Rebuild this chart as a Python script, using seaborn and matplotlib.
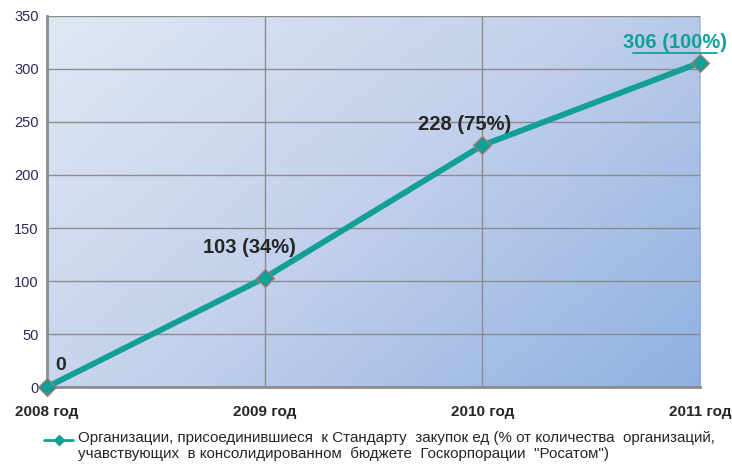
import numpy as np
import pandas as pd
import matplotlib.pyplot as plt
import seaborn as sns
from matplotlib.colors import LinearSegmentedColormap

sns.set_style("white")
plt.rcParams['font.family'] = ['Liberation Sans', 'DejaVu Sans']

# Data
years = ["2008 год", "2009 год", "2010 год", "2011 год"]
orgs = [0, 103, 228, 306]
point_labels = ["0", "103 (34%)", "228 (75%)", "306 (100%)"]
y_ticks = [0, 50, 100, 150, 200, 250, 300, 350]
legend_text = ("Организации, присоединившиеся  к Стандарту  закупок ед (% от количества  организаций,\n"
               "учавствующих  в консолидированном  бюджете  Госкорпорации  \"Росатом\")")

df = pd.DataFrame({"x": np.arange(len(years)), "y": orgs})

fig = plt.figure(figsize=(7.32, 4.66), dpi=100)
ax = fig.add_axes([0.0642, 0.1695, 0.8921, 0.7962])

# gradient background: light top-left -> darker blue bottom-right
cmap = LinearSegmentedColormap.from_list("bg", ["#e0e7f4", "#c2d0ec", "#8eb0e0"])
xx, yy = np.meshgrid(np.linspace(0, 1, 200), np.linspace(0, 1, 200))
grad = (xx * 0.6 + yy * 0.4)
ax.imshow(grad, extent=[0, 1, 0, 1], transform=ax.transAxes, cmap=cmap,
          aspect="auto", zorder=0, origin="upper")

sns.lineplot(data=df, x="x", y="y", ax=ax, color="#12a096", linewidth=4.2,
             marker="D", markersize=9, markerfacecolor="#12a096",
             markeredgecolor="#c0706a", markeredgewidth=0.8, zorder=5, clip_on=False)

ax.set_xlim(0, 3)
ax.set_ylim(0, 350)
ax.set_yticks(y_ticks)
ax.set_yticklabels([str(v) for v in y_ticks], color="#2a2a5a", fontsize=10.5)
ax.set_xticks(df["x"])
ax.set_xticklabels(years, fontsize=11, fontweight="bold")
ax.tick_params(axis="x", pad=9, length=4, color="#888888")
ax.tick_params(axis="y", length=4, color="#888888", pad=2)
ax.grid(True, color="#8c8c8c", linewidth=1)
for ln in ax.get_xgridlines() + ax.get_ygridlines():
    ln.set_zorder(1)
for s in ["top", "right"]:
    ax.spines[s].set_visible(False)
ax.spines["left"].set_color("#8c8c8c")
ax.spines["left"].set_linewidth(2)
ax.spines["bottom"].set_color("#8c8c8c")
ax.spines["bottom"].set_linewidth(2)
ax.set_xlabel("")
ax.set_ylabel("")

# point labels
ax.text(0.04, 20, point_labels[0], fontsize=14, fontweight="bold", ha="left", va="center")
ax.text(0.93, 132, point_labels[1], fontsize=14.5, fontweight="bold", ha="center", va="center")
ax.text(1.92, 248, point_labels[2], fontsize=14.5, fontweight="bold", ha="center", va="center")
ax.text(2.885, 325, point_labels[3], fontsize=14.5, fontweight="bold", ha="center", va="center",
        color="#12a096")
ax.plot([2.69, 3.08], [315, 315], color="#12a096", linewidth=1.3, clip_on=False)

# legend
fig.lines.append(plt.Line2D([0.060, 0.100], [0.056, 0.056], color="#12a096", linewidth=2,
                            transform=fig.transFigure))
fig.lines.append(plt.Line2D([0.080], [0.056], marker="D", markersize=5, color="#12a096",
                            transform=fig.transFigure))
fig.text(0.106, 0.076, legend_text, fontsize=10.9, va="top", ha="left", linespacing=1.2)

fig.savefig("out.png", dpi=100)
